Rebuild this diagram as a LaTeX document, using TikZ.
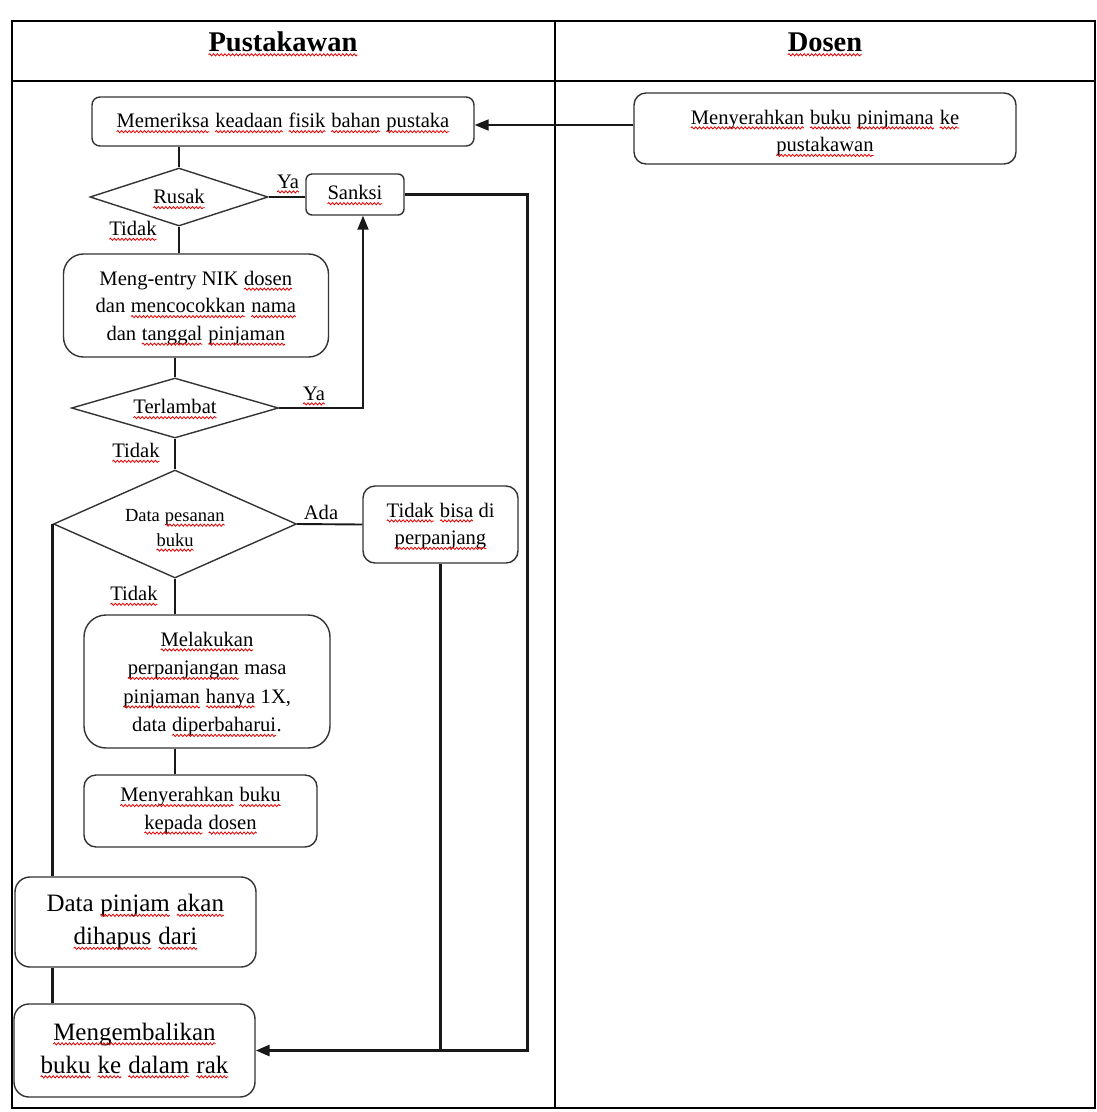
\documentclass[tikz,border=0pt]{standalone}
\usepackage{fontspec}
\setmainfont{Liberation Serif}
\usetikzlibrary{shapes.geometric,arrows.meta,decorations.pathmorphing}
\newcommand\sq[1]{\tikz[baseline=(w.base),sharp corners]{\node[shape=rectangle,minimum width=0pt,minimum height=0pt,inner sep=0pt,outer sep=0pt,draw=none,fill=none] (w) {#1};
  \draw[red!90!black,line width=0.8pt,sharp corners,decorate,decoration={snake,amplitude=1.1pt,segment length=3.8pt}]
    ([yshift=-3.8pt]w.base west) -- ([yshift=-3.8pt]w.base east);}}
\newcommand\myN{\fontsize{20.6}{27.5}\selectfont}
\newcommand\myL{\fontsize{20.6}{28.5}\selectfont}
\newcommand\myB{\fontsize{25}{33}\selectfont}
\newcommand\myS{\fontsize{18.5}{25}\selectfont}
\newcommand\myT{\fontsize{28.5}{34}\selectfont\bfseries}
\newcommand\up[1]{\rule{0pt}{#1pt}}
\begin{document}
\begin{tikzpicture}[x=1pt,y=-1pt,
  box/.style={draw=black!80,line width=1.4pt,inner sep=0pt,align=center},
  dia/.style={diamond,draw=black!80,line width=1.4pt,inner sep=0pt,align=center},
  ln/.style={line width=1.9pt,black!90},
  tk/.style={line width=3pt,black!90},
  tip/.style={-{Triangle[length=14pt,width=11pt]}},
  lbl/.style={inner sep=0pt,font=\myN}]
\useasboundingbox (0,0) rectangle (1096,1112);
% table
\draw[line width=1.6pt] (12,21) rectangle (1095,1108);
\draw[line width=1.6pt] (12,81) -- (1095,81);
\draw[line width=1.6pt] (555,21) -- (555,1108);
\node[font=\myT,anchor=base] (tp) at (283,51) {\sq{Pustakawan}};
\node[font=\myT,anchor=base] (td) at (825,51) {\sq{Dosen}};
% nodes
\node[box,rounded corners=8pt,minimum width=382pt,minimum height=49pt,font=\myN] (periksa) at (283,121.5)
  {\up{18}\sq{Memeriksa} \sq{keadaan} \sq{fisik} \sq{bahan} \sq{pustaka}};
\node[box,rounded corners=12pt,minimum width=382pt,minimum height=71pt,font=\myN] (serahP) at (825,128.5)
  {\up{24}\sq{Menyerahkan} \sq{buku} \sq{pinjmana} \sq{ke}\\ \sq{pustakawan}};
\node[dia,aspect=3.07,minimum width=178pt,minimum height=58pt,font=\myN] (rusak) at (179,197) {\up{19}\sq{Rusak}};
\node[box,rounded corners=6pt,minimum width=98pt,minimum height=41pt,font=\myN] (sanksi) at (355,194.5) {\up{16}\sq{Sanksi}};
\node[box,rounded corners=20pt,minimum width=265pt,minimum height=103pt,font=\myN] (entry) at (196,305.5)
  {\up{20}Meng-entry NIK \sq{dosen}\\ dan \sq{mencocokkan} \sq{nama}\\ dan \sq{tanggal} \sq{pinjaman}};
\node[dia,aspect=3.45,minimum width=207pt,minimum height=60pt,font=\myN] (terlambat) at (175,408) {\up{17}\sq{Terlambat}};
\node[dia,aspect=2.25,minimum width=243pt,minimum height=108pt,font=\myS] (pesanan) at (175,524) {\up{25}Data \sq{pesanan}\\ \sq{buku}};
\node[box,rounded corners=12pt,minimum width=155pt,minimum height=77pt,font=\myN] (tidakbisa) at (440.5,524.5)
  {\up{18}\sq{Tidak} \sq{bisa} di\\ \sq{perpanjang}};
\node[box,rounded corners=22pt,minimum width=246pt,minimum height=133pt,font=\myL] (lakukan) at (207,681.5)
  {\up{20}\sq{Melakukan}\\ \sq{perpanjangan} masa\\ \sq{pinjaman} \sq{hanya} 1X,\\ data \sq{diperbaharui}.};
\node[box,rounded corners=12pt,minimum width=233pt,minimum height=72pt,font=\myN] (serah) at (200.5,811)
  {\sq{Menyerahkan} \sq{buku}\\ \sq{kepada} \sq{dosen}};
\node[box,rounded corners=15pt,minimum width=241pt,minimum height=90pt,font=\myB] (hapus) at (135.5,922)
  {Data \sq{pinjam} \sq{akan}\\ \sq{dihapus} \sq{dari}};
\node[box,rounded corners=15pt,minimum width=241pt,minimum height=93pt,font=\myB] (kembali) at (134.5,1050.5)
  {\sq{Mengembalikan}\\ \sq{buku} \sq{ke} \sq{dalam} \sq{rak}};
% labels
\node[lbl] (ya1) at (288,184) {\sq{Ya}};
\node[lbl] (ya2) at (314,396) {\sq{Ya}};
\node[lbl] (td1) at (133,231) {\sq{Tidak}};
\node[lbl] (td2) at (136,453) {\sq{Tidak}};
\node[lbl] (td3) at (134,596) {\sq{Tidak}};
\node[lbl] (ada) at (321,512) {Ada};
% connectors
\coordinate (rb) at (527,1050.5);
\draw[ln,tip] ([yshift=3.5pt]serahP.west) -- ([yshift=3.5pt]serahP.west -| periksa.east);
\draw[ln] (rusak.north |- periksa.south) -- (rusak.north);
\draw[ln] (rusak.east) -- (rusak.east -| sanksi.west);
\draw[tk,tip] (sanksi.east) -| (rb) -- (kembali.east);
\draw[ln] (rusak.south) -- (rusak.south |- entry.north);
\draw[ln] (terlambat.north |- entry.south) -- (terlambat.north);
\draw[ln,tip] (terlambat.east) -| ([xshift=8pt]sanksi.south);
\draw[ln] (terlambat.south) -- (pesanan.north);
\draw[ln] (pesanan.east) -- (tidakbisa.west);
\draw[tk] (tidakbisa.south) -- (tidakbisa.south |- rb);
\draw[ln] (pesanan.south) -- (pesanan.south |- lakukan.north);
\draw[ln] (pesanan.south |- lakukan.south) -- (pesanan.south |- serah.north);
\draw[tk] (pesanan.west) -- (pesanan.west |- hapus.north);
\draw[tk] (pesanan.west |- hapus.south) -- (pesanan.west |- kembali.north);
\end{tikzpicture}
\end{document}
